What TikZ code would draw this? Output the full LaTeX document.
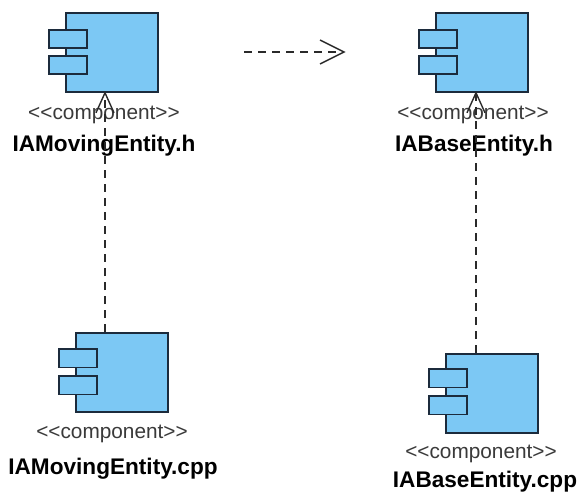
\documentclass[tikz,border=0pt]{standalone}
\usepackage{fontspec}
\setmainfont[Ligatures=NoCommon]{Liberation Sans}
\usetikzlibrary{calc}
\definecolor{compfill}{HTML}{7CC8F4}
\definecolor{compline}{HTML}{1C2B3C}
\definecolor{stereo}{HTML}{3A3A3A}
\definecolor{dep}{HTML}{2A2A2A}
\newcommand\stereotxt{{<}{<}component{>}{>}}
\tikzset{
  x=1pt, y=-1pt,
  body/.style={draw=compline, fill=compfill, line width=1.8pt, minimum width=92pt, minimum height=79pt, inner sep=0pt, anchor=north west},
  tab/.style={draw=compline, fill=compfill, line width=1.8pt, minimum width=38pt, minimum height=18.5pt, inner sep=0pt, anchor=north west},
  stereotype/.style={text=stereo, font=\fontsize{20.8}{23}\selectfont, anchor=base, inner sep=0pt},
  compname/.style={text=black, font=\bfseries\fontsize{22.6}{25}\selectfont, anchor=base, inner sep=0pt},
  dependency/.style={draw=dep, line width=1.4pt, dash pattern=on 8pt off 6pt},
  openhead/.style={draw=dep, line width=1.4pt, line join=miter}
}
\begin{document}
\begin{tikzpicture}
\useasboundingbox (0,0) rectangle (579,500);
\fill[white] (0,0) rectangle (579,500);

% IAMovingEntity.h
\node[body] (mh) at (65,12) {};
\node[tab] (mh1) at (48,29) {};
\node[tab] (mh2) at (48,55) {};
\node[stereotype] (mhs) at (104,120) {\stereotxt};
\node[compname] (mhn) at (104,152) {IAMovingEntity.h};

% IABaseEntity.h
\node[body] (bh) at (435,12) {};
\node[tab] (bh1) at (418,29) {};
\node[tab] (bh2) at (418,55) {};
\node[stereotype] (bhs) at (473,120) {\stereotxt};
\node[compname] (bhn) at (474,152) {IABaseEntity.h};

% IAMovingEntity.cpp
\node[body] (mc) at (75,332) {};
\node[tab] (mc1) at (58,348) {};
\node[tab] (mc2) at (58,375) {};
\node[stereotype] (mcs) at (112,438) {\stereotxt};
\node[compname] (mcn) at (113,474) {IAMovingEntity.cpp};

% IABaseEntity.cpp
\node[body] (bc) at (445,353) {};
\node[tab] (bc1) at (428,368) {};
\node[tab] (bc2) at (428,395) {};
\node[stereotype] (bcs) at (481,458) {\stereotxt};
\node[compname] (bcn) at (485,487) {IABaseEntity.cpp};

% attachment columns of the dependency lines
\coordinate (colL) at (105,0);
\coordinate (colR) at (476,0);

% .cpp depends on .h
\draw[dependency] (mc.north -| colL) -- (mh.south -| colL);
\draw[openhead] ($(mh.south -| colL)+(-9,20)$) -- (mh.south -| colL) -- ($(mh.south -| colL)+(9,20)$);
\draw[dependency] (bc.north -| colR) -- (bh.south -| colR);
\draw[openhead] ($(bh.south -| colR)+(-9,20)$) -- (bh.south -| colR) -- ($(bh.south -| colR)+(9,20)$);

% dependency between the headers
\coordinate (hs) at (244,52);
\coordinate (ht) at (344,52);
\draw[dependency] (hs) -- (ht);
\draw[openhead] ($(ht)+(-24,-12)$) -- (ht) -- ($(ht)+(-24,12)$);
\end{tikzpicture}
\end{document}
